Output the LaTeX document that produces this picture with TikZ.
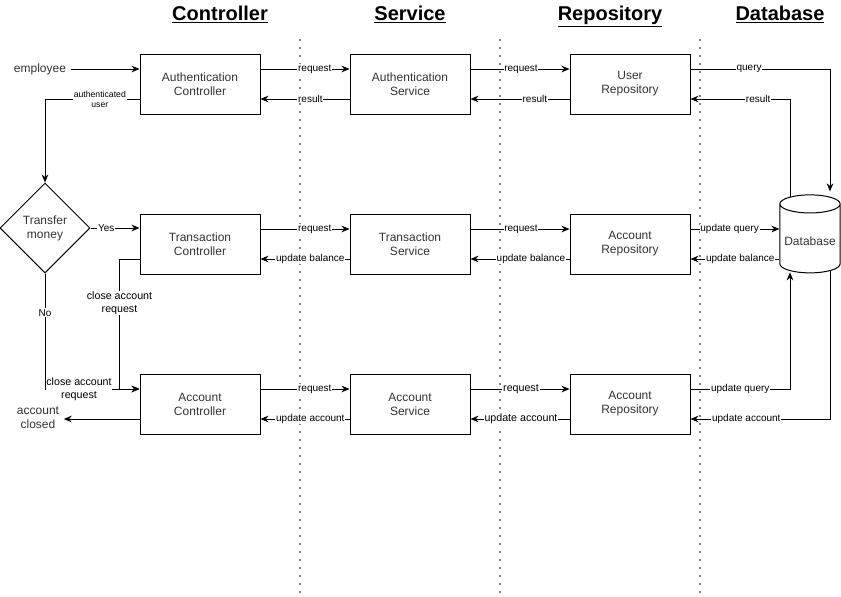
\documentclass[tikz,border=0pt]{standalone}
\usepackage{fontspec}
\setmainfont{Liberation Sans}
\usetikzlibrary{shapes.geometric, arrows.meta, positioning, calc}

\tikzset{
    box/.style={draw, line width=0.75pt, minimum width=90pt, minimum height=45pt, align=center, font=\fontsize{9}{10.5}\selectfont, text=black!80},
    lbl/.style={fill=white, inner sep=0.6pt, font=\fontsize{7.5}{8.5}\selectfont, align=center},
    head/.style={anchor=base, font=\fontsize{15}{18}\selectfont\bfseries},
    arr/.style={-{Stealth[length=6pt, width=5pt]}, line width=0.75pt},
    lane/.style={line width=1.4pt, dash pattern=on 0pt off 6pt, line cap=round}
}

\begin{document}
\begin{tikzpicture}[x=0.75pt, y=-0.75pt]
    \useasboundingbox (0,0) rectangle (841,596);

    % Layer headings
    \node[head] (hctrl) at (220,20) {\underline{Controller}};
    \node[head] (hsvc) at (410,20) {\underline{Service}};
    \node[head] (hrepo) at (610,20) {\underline{Repository}};
    \node[head] (hdb) at (780,20) {\underline{Database}};

    % Lane separators
    \foreach \lx in {300, 500, 700}
        \draw[lane] (\lx,40) -- (\lx,596);

    % Controllers
    \node[box] (authc) at (200,84) {Authentication\\Controller};
    \node[box] (transc) at (200,244) {Transaction\\Controller};
    \node[box] (accc) at (200,404) {Account\\Controller};

    % Services
    \node[box] (auths) at (410,84) {Authentication\\Service};
    \node[box] (transs) at (410,244) {Transaction\\Service};
    \node[box] (accs) at (410,404) {Account\\Service};

    % Repositories
    \node[box] (userr) at (630,84) {User\\Repository};
    \node[box] (accr1) at (630,244) {Account\\Repository};
    \node[box] (accr2) at (630,404) {Account\\Repository};

    % Database
    \node[draw, cylinder, shape border rotate=90, aspect=0.3, line width=0.75pt, minimum width=45pt, minimum height=58.5pt, font=\fontsize{9}{10.5}\selectfont, text=black!80] (db) at (810,241) {Database};

    % Decision and free texts
    \node[draw, diamond, line width=0.75pt, inner sep=0pt, minimum width=67.5pt, minimum height=67.5pt, align=center, font=\fontsize{9}{10.5}\selectfont, text=black!80] (dec) at (45,228) {Transfer\\money};
    \node[font=\fontsize{9}{10.5}\selectfont, text=black!80] (emp) at (40,69) {employee};
    \node[font=\fontsize{9}{10.5}\selectfont, text=black!80, align=center] (closed) at (38,418) {account\\closed};

    % Ports next to the database
    \coordinate (a1u) at ($(accr1.east)+(0,-15)$);
    \coordinate (a1d) at ($(accr1.east)+(0,15)$);
    \coordinate (accd) at ($(accc.west)+(0,15)$);

    % Authentication row
    \draw[arr] (emp.east) -- ($(authc.west)+(0,-15)$);
    \draw[arr] ($(authc.west)+(0,15)$) -| node[lbl, pos=0.21, font=\fontsize{6.5}{7.5}\selectfont] {authenticated\\user} (dec.north);
    \draw[arr] ($(authc.east)+(0,-15)$) -- node[lbl, pos=0.61] {request} ($(auths.west)+(0,-15)$);
    \draw[arr] ($(auths.west)+(0,15)$) -- node[lbl, pos=0.44] {result} ($(authc.east)+(0,15)$);
    \draw[arr] ($(auths.east)+(0,-15)$) -- node[lbl, pos=0.51] {request} ($(userr.west)+(0,-15)$);
    \draw[arr] ($(userr.west)+(0,15)$) -- node[lbl, pos=0.35] {result} ($(auths.east)+(0,15)$);
    \draw[arr] ($(userr.east)+(0,-15)$) -| node[lbl, pos=0.21] {query} ($(db.north)+(20,-3)$);
    \draw[arr] ($(db.north)+(-20,3)$) |- node[lbl, pos=0.66] {result} ($(userr.east)+(0,15)$);

    % Transaction row
    \draw[arr] (dec.east) -- node[lbl, pos=0.32] {Yes} (transc.west |- dec.east);
    \draw[arr] ($(transc.east)+(0,-15)$) -- node[lbl, pos=0.61] {request} ($(transs.west)+(0,-15)$);
    \draw[arr] ($(transs.west)+(0,15)$) -- node[lbl, pos=0.44] {update balance} ($(transc.east)+(0,15)$);
    \draw[arr] ($(transs.east)+(0,-15)$) -- node[lbl, pos=0.51] {request} ($(accr1.west)+(0,-15)$);
    \draw[arr] ($(accr1.west)+(0,15)$) -- node[lbl, pos=0.39] {update balance} ($(transs.east)+(0,15)$);
    \draw[arr] (a1u) -- node[lbl, pos=0.44] {update query} (a1u -| db.west);
    \draw[arr] (a1d -| db.west) -- node[lbl, pos=0.44] {update balance} (a1d);

    % Account row
    \draw[arr] ($(transc.west)+(0,15)$) -- ++(-20,0) |- node[lbl, pos=0.17, font=\fontsize{8}{9.5}\selectfont] {close account\\request} ($(accc.west)+(0,-15)$);
    \draw[arr] (dec.south) |- node[lbl, pos=0.17] {No} node[lbl, pos=0.68, font=\fontsize{8}{9.5}\selectfont] {close account\\request} ($(accc.west)+(0,-15)$);
    \draw[arr] (accd) -- (closed.east |- accd);
    \draw[arr] ($(accc.east)+(0,-15)$) -- node[lbl, pos=0.61] {request} ($(accs.west)+(0,-15)$);
    \draw[arr] ($(accs.west)+(0,15)$) -- node[lbl, pos=0.44] {update account} ($(accc.east)+(0,15)$);
    \draw[arr] ($(accs.east)+(0,-15)$) -- node[lbl, pos=0.51, font=\fontsize{8}{9.5}\selectfont] {request} ($(accr2.west)+(0,-15)$);
    \draw[arr] ($(accr2.west)+(0,15)$) -- node[lbl, pos=0.49, font=\fontsize{8}{9.5}\selectfont] {update account} ($(accs.east)+(0,15)$);
    \draw[arr] ($(accr2.east)+(0,-15)$) -| node[lbl, pos=0.25] {update query} ($(db.south)+(-20,-1)$);
    \draw[arr] ($(db.south)+(20,-2)$) |- node[lbl, pos=0.8] {update account} ($(accr2.east)+(0,15)$);
\end{tikzpicture}
\end{document}
